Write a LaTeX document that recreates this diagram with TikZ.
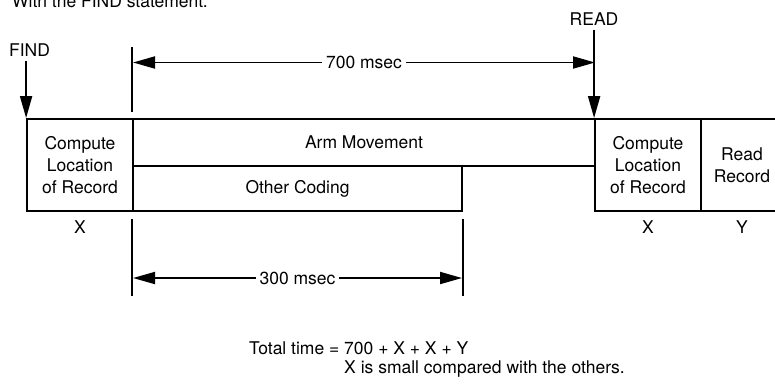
\documentclass[tikz,border=0pt]{standalone}
\usepackage{fontspec}
\setmainfont{TeX Gyre Heros}
\usetikzlibrary{arrows.meta,positioning}

\tikzset{
  box/.style={rectangle, draw, line width=1.8pt, inner sep=0pt, align=center,
    font=\fontsize{17.5}{22}\selectfont},
  lbl/.style={inner sep=4pt, font=\fontsize{17.5}{22}\selectfont},
  rule/.style={line width=1.8pt},
  pointer/.style={rule, -{Triangle[length=22pt,width=12pt]}},
  dimline/.style={rule, {Triangle[length=22pt,width=12pt]}-{Triangle[length=22pt,width=12pt]}},
}

\begin{document}
\begin{tikzpicture}[x=1pt,y=-1pt]
\useasboundingbox (0,0) rectangle (775,383);

\node[lbl, anchor=base west] (title) at (8,7) {With the FIND statement:};

% time line boxes
\node[box, minimum width=106pt, minimum height=92pt] (loc1) at (80,165) {Compute\\Location\\of Record};
\node[box, minimum width=462pt, minimum height=47pt] (arm) at (364,142.5) {Arm Movement};
\node[box, minimum width=329pt, minimum height=45pt] (other) at (297.5,188.5) {Other Coding};
\node[box, minimum width=106pt, minimum height=92pt] (loc2) at (648,165) {Compute\\Location\\of Record};
\node[box, minimum width=82pt, minimum height=92pt] (rd) at (742,165) {Read\\Record};

\node[lbl] (x1) at (80,227) {X};
\node[lbl] (x2) at (648,227) {X};
\node[lbl] (y1) at (742,227) {Y};

% FIND and READ
\node[lbl] (find) at (29.5,50) {FIND};
\draw[pointer] (find.south -| loc1.north west) -- (loc1.north west);
\node[lbl] (read) at (594,19) {READ};
\draw[pointer] (read.south -| loc2.north west) -- (loc2.north west);

% 700 msec
\draw[rule] ([yshift=71pt]arm.north west) -- ([yshift=6pt]arm.north west);
\coordinate (d7a) at (133,62.5);
\coordinate (d7b) at (595,62.5);
\draw[dimline] (d7a) -- node[lbl, fill=white] (t700) {700 msec} (d7b);

% 300 msec
\draw[rule] ([yshift=-7pt]other.south west) -- ([yshift=-84pt]other.south west);
\draw[rule] ([yshift=-7pt]other.south east) -- ([yshift=-84pt]other.south east);
\coordinate (d3a) at (133,278);
\coordinate (d3b) at (462,278);
\draw[dimline] (d3a) -- node[lbl, fill=white] (t300) {300 msec} (d3b);

% totals
\node[lbl, anchor=base west] (total) at (245,354) {Total time = 700 + X + X + Y};
\node[lbl, anchor=base west] (note) at ([yshift=-19pt]total.base west) {\phantom{Total time = }X is small compared with the others.};
\end{tikzpicture}
\end{document}
